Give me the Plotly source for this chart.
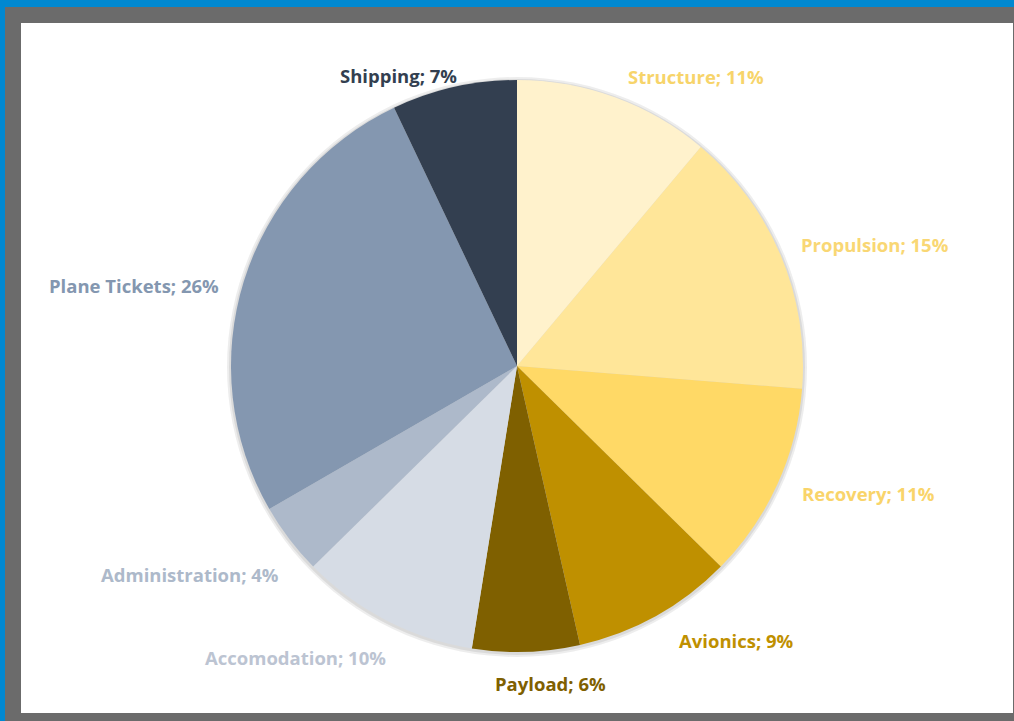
import plotly.graph_objects as go

W, H = 1014, 721

categories = ["Structure", "Propulsion", "Recovery", "Avionics", "Payload",
              "Accomodation", "Administration", "Plane Tickets", "Shipping"]
values = [11, 15, 11, 9, 6, 10, 4, 26, 7]
slice_colors = ["#FFF2CC", "#FFE699", "#FFD966", "#BF9000", "#7F6000",
                "#D6DCE5", "#ADB9CA", "#8497B0", "#333F50"]
label_colors = ["#F7D46A", "#F9D774", "#F9D46A", "#BF9000", "#7F6000",
                "#BCC4D2", "#ADB9CA", "#8497B0", "#333F50"]
# label centre positions in pixels (style)
label_pos = [(696, 77), (875, 244), (868, 493), (736, 640), (550, 683),
             (295, 657), (190, 574), (134, 285), (398, 76)]

def px(x):
    return x / W

def py(y):
    return 1 - y / H

cx, cy, r = 517, 366, 286

fig = go.Figure()
fig.add_trace(go.Pie(
    labels=categories,
    values=values,
    sort=False,
    direction="clockwise",
    rotation=0,
    marker=dict(colors=slice_colors, line=dict(width=0)),
    textinfo="none",
    hoverinfo="label+value",
    showlegend=False,
    domain=dict(x=[px(cx - r), px(cx + r)], y=[py(cy + r), py(cy - r)]),
))

shapes = [
    # white panel
    dict(type="rect", xref="paper", yref="paper", x0=px(21), x1=px(1013),
         y0=py(713), y1=py(23), fillcolor="white", line=dict(width=0), layer="below"),
    # blue border top and left
    dict(type="rect", xref="paper", yref="paper", x0=0, x1=1, y0=py(7), y1=1,
         fillcolor="#0088D1", line=dict(width=0), layer="below"),
    dict(type="rect", xref="paper", yref="paper", x0=0, x1=px(5), y0=0, y1=1,
         fillcolor="#0088D1", line=dict(width=0), layer="below"),
    # soft shadow under pie
    dict(type="circle", xref="paper", yref="paper",
         x0=px(cx - r - 4), x1=px(cx + r + 4), y0=py(cy + r + 5), y1=py(cy - r - 3),
         fillcolor="rgba(0,0,0,0.07)", line=dict(width=0), layer="below"),
    dict(type="circle", xref="paper", yref="paper",
         x0=px(cx - r - 2), x1=px(cx + r + 2), y0=py(cy + r + 3), y1=py(cy - r - 1),
         fillcolor="rgba(0,0,0,0.08)", line=dict(width=0), layer="below"),
]

annotations = []
for name, v, col, (lx, ly) in zip(categories, values, label_colors, label_pos):
    annotations.append(dict(
        x=px(lx), y=py(ly), xref="paper", yref="paper",
        text=f"<b>{name}; {v}%</b>", showarrow=False,
        xanchor="center", yanchor="middle",
        font=dict(family="Open Sans, sans-serif", size=18.5, color=col),
    ))

fig.update_layout(
    width=W, height=H,
    margin=dict(l=0, r=0, t=0, b=0),
    paper_bgcolor="#6B6B6B",
    plot_bgcolor="#6B6B6B",
    shapes=shapes,
    annotations=annotations,
)

fig.write_html(
    "out.html",
    config={"displayModeBar": False},
    post_script="document.body.style.margin='0';document.body.style.overflow='hidden';",
)
